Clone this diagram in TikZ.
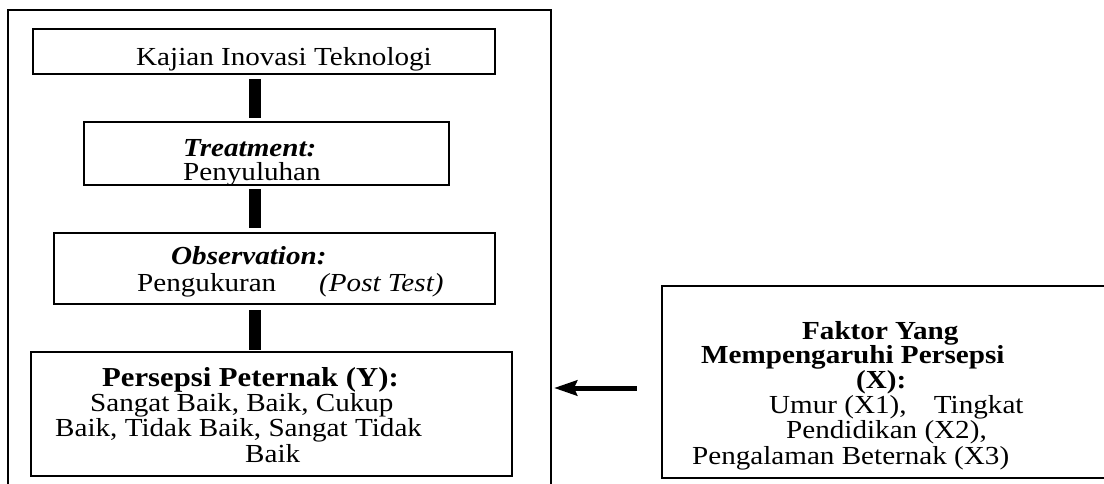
\documentclass[tikz,border=0pt]{standalone}
\usepackage{fontspec}
\setmainfont{Liberation Serif}[FakeStretch=1.12]
\usetikzlibrary{arrows.meta}

\begin{document}
\begin{tikzpicture}[x=1pt,y=-1pt,
    font=\fontsize{26}{28}\selectfont,
    kotak/.style={draw, line width=1.3pt, inner sep=0pt},
    tebal/.style={draw, line width=2.6pt, inner sep=0pt},
    teks/.style={anchor=base west, inner sep=0pt},
    batang/.style={line width=11.5pt},
    panah/.style={line width=5pt, -{Stealth[length=23pt,width=15pt,inset=3pt]}}]
    \useasboundingbox (0,0) rectangle (1104,484);

    % kotak
    \node[tebal, minimum width=543pt, minimum height=492pt] (luar) at (279.5,256) {};
    \node[tebal, minimum width=462pt, minimum height=45pt] (kajian) at (264,51.5) {};
    \node[kotak, minimum width=365pt, minimum height=63pt] (treat) at (266.5,153.5) {};
    \node[kotak, minimum width=441pt, minimum height=71pt] (obs) at (274.5,268.5) {};
    \node[kotak, minimum width=481pt, minimum height=124pt] (persepsi) at (271.5,414) {};
    \node[kotak, minimum width=446pt, minimum height=192pt] (faktor) at (885,382) {};

    % teks
    \node[teks] (tkajian) at (136,66) {Kajian Inovasi Teknologi};
    \node[teks] (ttreat) at (183,157) {\textbf{\textit{Treatment:}}};
    \node[teks] (tsuluh) at (183,181) {Penyuluhan};
    \node[teks] (tobs) at (171,265) {\textbf{\textit{Observation:}}};
    \node[teks] (tukur) at (137,291) {Pengukuran};
    \node[teks] (tpost) at (319,291) {\textit{(Post Test)}};
    \node[teks, font=\fontsize{27.4}{29}\selectfont] (tpersepsi) at (102,386) {\textbf{Persepsi Peternak (Y):}};
    \node[teks] (tnilai1) at (90,411) {Sangat Baik, Baik, Cukup};
    \node[teks] (tnilai2) at (55,436) {Baik, Tidak Baik, Sangat Tidak};
    \node[teks] (tnilai3) at (245,462) {Baik};

    \node[teks] (tfaktor1) at (802,339) {\textbf{Faktor Yang}};
    \node[teks] (tfaktor2) at (701,363) {\textbf{Mempengaruhi Persepsi}};
    \node[teks] (tfaktor3) at (856,388) {\textbf{(X):}};
    \node[teks] (tfaktor4) at (769,413) {Umur (X1),\hspace{20pt} Tingkat};
    \node[teks] (tfaktor5) at (786,438) {Pendidikan (X2),};
    \node[teks] (tfaktor6) at (692,464) {Pengalaman Beternak (X3)};

    % batang penghubung
    \coordinate (tengah) at (255,0);
    \draw[batang, shorten <=3.7pt, shorten >=3.4pt] (kajian.south -| tengah) -- (treat.north -| tengah);
    \draw[batang, shorten <=3.4pt, shorten >=4.4pt] (treat.south -| tengah) -- (obs.north -| tengah);
    \draw[batang, shorten <=5.4pt, shorten >=1.4pt] (obs.south -| tengah) -- (persepsi.north -| tengah);

    % panah
    \coordinate (panahY) at (0,388);
    \draw[panah, shorten <=24.4pt, shorten >=1.7pt] (faktor.west |- panahY) -- (luar.east |- panahY);
\end{tikzpicture}
\end{document}
